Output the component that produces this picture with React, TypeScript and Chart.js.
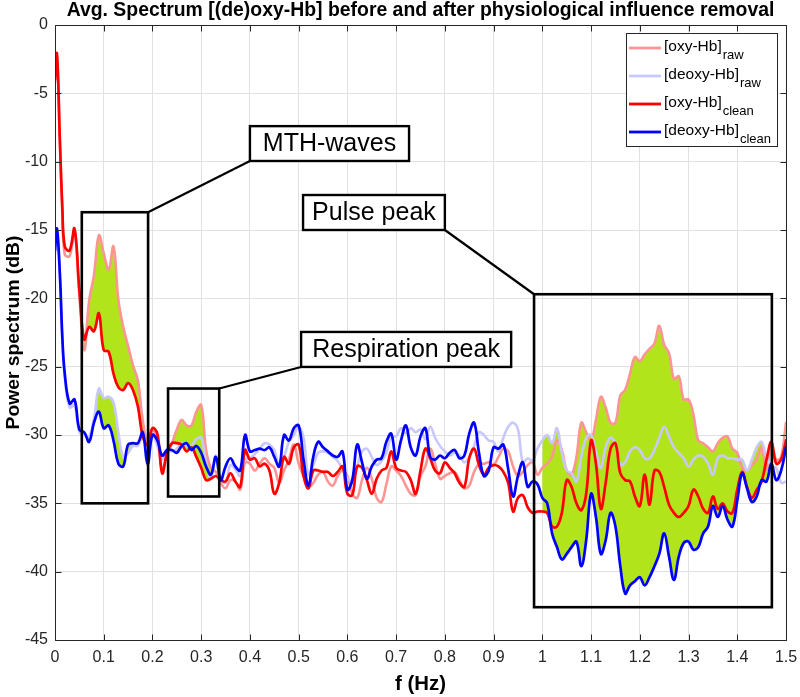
import React, { useEffect, useRef } from "react";
import { Chart, registerables } from "chart.js";

Chart.register(...registerables);

const FONT = '"Liberation Sans", Arial, Helvetica, sans-serif';

const freq = [
  0, 0.004, 0.01, 0.015, 0.02,
  0.03, 0.04, 0.05, 0.06, 0.07, 0.08, 0.09,
  0.1, 0.11, 0.12, 0.13, 0.14, 0.15, 0.16, 0.17, 0.18, 0.19,
  0.2, 0.21, 0.22, 0.23, 0.24, 0.25, 0.26, 0.27, 0.28, 0.29,
  0.3, 0.31, 0.32, 0.33, 0.34, 0.35, 0.36, 0.37, 0.38, 0.39,
  0.4, 0.41, 0.42, 0.43, 0.44, 0.45, 0.46, 0.47, 0.48, 0.49,
  0.5, 0.51, 0.52, 0.53, 0.54, 0.55, 0.56, 0.57, 0.58, 0.59,
  0.6, 0.61, 0.62, 0.63, 0.64, 0.65, 0.66, 0.67, 0.68, 0.69,
  0.7, 0.71, 0.72, 0.73, 0.74, 0.75, 0.76, 0.77, 0.78, 0.79,
  0.8, 0.81, 0.82, 0.83, 0.84, 0.85, 0.86, 0.87, 0.88, 0.89,
  0.9, 0.91, 0.92, 0.93, 0.94, 0.95, 0.96, 0.97, 0.98, 0.99,
  1.0, 1.01, 1.02, 1.03, 1.04, 1.05, 1.06, 1.07, 1.08, 1.09,
  1.1, 1.11, 1.12, 1.13, 1.14, 1.15, 1.16, 1.17, 1.18, 1.19,
  1.2, 1.21, 1.22, 1.23, 1.24, 1.25, 1.26, 1.27, 1.28, 1.29,
  1.3, 1.31, 1.32, 1.33, 1.34, 1.35, 1.36, 1.37, 1.38, 1.39,
  1.4, 1.41, 1.42, 1.43, 1.44, 1.45, 1.46, 1.47, 1.48, 1.49,
  1.5,
];

const oxyRaw = [
  -4.2, -2.3, -8.6, -13.6, -16.8,
  -16.9, -15.1, -19.8, -23.8, -20.2, -18.3, -15.4,
  -16.7, -17.9, -16.2, -20.1, -22.1, -23.5, -24.9, -26.0, -28.9, -30.5,
  -29.7, -30.2, -32.5, -31.5, -30.6, -29.6, -28.9, -29.3, -29.3, -28.3,
  -27.8, -31.1, -32.4, -32.7, -33.5, -33.9, -33.3, -33.4, -34.0, -32.0,
  -32.1, -32.6, -32.1, -31.7, -32.1, -32.4, -33.5, -32.6, -31.8, -30.7,
  -32.1, -33.0, -33.8, -33.5, -32.9, -32.7, -33.4, -33.7, -33.0, -32.6,
  -33.0, -34.3, -34.6, -33.3, -32.4, -33.2, -34.6, -34.9, -33.6, -32.3,
  -32.6, -33.0, -33.7, -34.3, -34.4, -33.0, -32.3, -31.0, -32.1, -33.2,
  -33.0, -32.8, -32.7, -33.3, -33.9, -33.7, -32.7, -32.1, -32.1, -32.0,
  -32.2, -31.6, -31.0, -31.2, -32.3, -33.0, -32.7, -32.2, -32.0, -32.9,
  -32.4, -32.1, -31.6, -30.4, -31.1, -32.6, -32.9, -31.6, -29.1, -29.8,
  -30.4, -28.9, -27.2, -28.0, -29.1, -29.1, -27.1, -26.7, -25.5, -24.3,
  -24.6, -24.1, -23.7, -23.3, -22.0, -23.4, -24.0, -25.9, -25.7, -27.4,
  -27.4, -28.5, -30.4, -30.6, -30.9, -31.2, -30.6, -30.2, -30.1, -31.0,
  -31.3, -32.4, -32.6, -32.2, -31.8, -30.9, -32.6, -30.6, -31.8, -31.6,
  -29.1,
];

const deoxyRaw = [
  -16.8, -15.2, -18.4, -23.0, -25.8,
  -28.0, -27.8, -29.8, -30.0, -30.1, -28.8, -26.6,
  -27.3, -27.2, -27.6, -29.8, -31.6, -31.3, -30.8, -30.8, -30.0, -32.2,
  -30.0, -30.8, -31.8, -31.0, -31.2, -31.0, -30.6, -30.8, -30.8, -30.3,
  -30.2, -32.0, -33.2, -31.5, -33.3, -33.5, -32.2, -32.5, -33.0, -31.8,
  -31.7, -31.4, -31.0, -30.6, -30.7, -31.1, -32.2, -31.6, -30.5, -30.0,
  -29.4, -30.2, -32.9, -32.2, -31.3, -31.2, -31.3, -31.6, -31.9, -32.5,
  -33.2, -33.3, -32.3, -31.2, -31.0, -31.6, -32.2, -31.9, -31.3, -30.1,
  -30.1, -29.5, -29.9, -29.5, -29.8, -29.6, -30.3, -29.4, -30.2, -30.8,
  -31.2, -31.5, -31.3, -31.5, -32.0, -31.6, -30.8, -29.8, -30.0, -30.4,
  -30.5, -31.2, -30.2, -29.4, -29.1, -29.6, -32.0, -31.7, -31.9, -31.0,
  -30.4, -30.0, -30.6, -29.5, -31.3, -32.6, -32.8, -33.4, -31.6, -30.2,
  -30.0, -31.2, -32.4, -30.9, -30.2, -30.6, -32.2, -32.0, -31.2, -30.9,
  -31.1, -31.7, -31.7, -31.1, -30.2, -29.4, -30.1, -30.9, -31.3, -31.7,
  -32.3, -31.8, -31.5, -31.6, -32.1, -32.9, -31.7, -31.5, -31.7, -31.7,
  -31.8, -31.8, -32.6, -31.8, -30.9, -30.5, -31.7, -32.3, -32.4, -33.5,
  -33.4,
];

const oxyClean = [
  -4.0, -2.1, -8.4, -13.3, -16.2,
  -16.5, -14.9, -19.4, -23.0, -22.1, -22.4, -21.1,
  -23.8, -23.9, -25.5, -26.5, -26.7, -26.2, -26.7, -27.9, -30.1, -30.7,
  -29.5, -29.9, -32.8, -31.3, -30.6, -30.6, -30.7, -31.2, -30.9, -31.6,
  -32.4, -33.3, -33.2, -33.0, -33.3, -33.4, -32.8, -33.4, -33.8, -31.1,
  -31.8, -31.7, -32.3, -32.1, -32.6, -34.3, -33.5, -31.6, -32.1, -30.9,
  -30.7, -33.0, -33.9, -32.6, -32.6, -32.7, -32.7, -33.0, -32.7, -32.3,
  -34.3, -34.4, -32.3, -32.4, -33.3, -34.3, -33.2, -32.6, -32.4, -31.2,
  -32.4, -32.6, -32.7, -33.3, -34.3, -32.6, -31.0, -31.7, -32.6, -32.8,
  -32.0, -32.4, -32.8, -33.5, -33.8, -31.7, -31.0, -32.2, -32.9, -32.4,
  -32.2, -32.3, -32.7, -33.5, -35.6, -34.6, -34.4, -35.3, -35.7, -35.6,
  -35.6, -35.7, -36.7, -36.7, -35.7, -33.3, -33.8, -35.0, -35.5, -34.3,
  -30.4, -32.1, -35.4, -33.5, -31.0, -30.6, -32.8, -33.3, -33.4, -34.5,
  -35.2, -32.9, -35.1, -32.6, -32.7, -33.8, -35.1, -35.7, -36.0, -35.7,
  -35.2, -34.0, -34.5, -35.4, -35.7, -34.5, -35.4, -35.0, -35.6, -35.7,
  -34.0, -32.7, -33.8, -34.6, -34.0, -33.4, -31.8, -30.5, -32.1, -31.8,
  -30.4,
];

const deoxyClean = [
  -16.5, -14.9, -18.2, -22.8, -25.5,
  -27.7, -27.4, -29.6, -29.8, -30.5, -29.1, -28.3,
  -29.5, -29.3, -30.4, -32.1, -32.3, -30.7, -30.6, -30.6, -29.8, -32.1,
  -30.0, -30.4, -31.5, -31.1, -31.1, -31.3, -30.8, -30.6, -31.1, -30.8,
  -31.3, -32.3, -32.9, -31.6, -33.3, -32.3, -31.7, -32.3, -32.6, -30.0,
  -31.2, -31.1, -31.0, -31.1, -30.9, -31.6, -32.3, -30.0, -30.4, -29.5,
  -29.3, -31.8, -33.7, -31.6, -30.5, -30.9, -31.2, -31.5, -31.6, -31.2,
  -34.0, -33.3, -30.7, -32.0, -33.2, -32.3, -31.8, -31.7, -30.5, -29.9,
  -31.8, -30.4, -29.3, -30.9, -31.5, -30.1, -29.5, -31.6, -31.8, -31.5,
  -31.7, -31.3, -31.1, -31.7, -31.5, -29.9, -29.1, -31.3, -33.0, -32.6,
  -30.9, -31.0, -30.7, -32.5, -34.5, -33.0, -32.0, -33.8, -33.4, -33.6,
  -34.6, -35.0, -37.2, -38.2, -39.1, -38.7, -38.2, -37.8, -39.6, -37.7,
  -34.3, -36.0, -38.7, -37.7, -35.7, -36.7, -39.6, -41.6, -41.0, -40.7,
  -40.4, -41.0, -40.4, -39.6, -38.7, -37.2, -38.9, -40.6, -38.9, -37.9,
  -37.8, -38.4, -38.2, -37.2, -36.7, -35.2, -36.0, -35.2, -36.2, -36.7,
  -34.8, -32.8, -33.9, -34.9, -34.5, -33.3, -33.4, -32.1, -33.3, -32.6,
  -30.9,
];

const xTicks = [0, 0.1, 0.2, 0.3, 0.4, 0.5, 0.6, 0.7, 0.8, 0.9, 1, 1.1, 1.2, 1.3, 1.4, 1.5];
const xTickLabels = ["0", "0.1", "0.2", "0.3", "0.4", "0.5", "0.6", "0.7", "0.8", "0.9", "1", "1.1", "1.2", "1.3", "1.4", "1.5"];
const yTicks = [-45, -40, -35, -30, -25, -20, -15, -10, -5, 0];
const yTickLabels = ["-45", "-40", "-35", "-30", "-25", "-20", "-15", "-10", "-5", "0"];

// frequency bands where the removed physiological influence is shaded
const bandStart = [0.06, 0.24, 1.0];
const bandEnd = [0.19, 0.32, 1.47];

// highlight boxes (data coordinates)
const regionX0 = [0.055, 0.232, 0.983];
const regionX1 = [0.191, 0.337, 1.471];
const regionTop = [-13.7, -26.6, -19.7];
const regionBottom = [-35.0, -34.5, -42.6];

// text callouts (data coordinates)
const calloutText = ["MTH-waves", "Respiration peak", "Pulse peak"];
const calloutX0 = [0.4, 0.505, 0.509];
const calloutX1 = [0.7265, 0.936, 0.8];
const calloutTop = [-7.4, -22.46, -12.44];
const calloutBottom = [-9.95, -25.02, -15.0];
const calloutLineFrom = [[0.4, -9.95], [0.505, -25.02], [0.8, -15.0]];
const calloutLineTo = [[0.191, -13.7], [0.337, -26.6], [0.983, -19.7]];

const TITLE = "Avg. Spectrum [(de)oxy-Hb] before and after physiological influence removal";
const X_TITLE = "f (Hz)";
const Y_TITLE = "Power spectrum (dB)";

const C_OXY_RAW = "rgb(255,148,148)";
const C_DEOXY_RAW = "rgb(200,200,255)";
const C_OXY = "rgb(255,0,0)";
const C_DEOXY = "rgb(0,0,255)";
const C_FILL = "rgb(178,228,28)";

const legendMain = ["[oxy-Hb]", "[deoxy-Hb]", "[oxy-Hb]", "[deoxy-Hb]"];
const legendSub = ["raw", "raw", "clean", "clean"];
const legendColors = [C_OXY_RAW, C_DEOXY_RAW, C_OXY, C_DEOXY];

function pts(values: number[], lo: number, hi: number) {
  return freq
    .map((f, i) => ({ x: f, y: values[i] }))
    .filter((p) => p.x >= lo - 1e-9 && p.x <= hi + 1e-9);
}

function fitSize(ctx: CanvasRenderingContext2D, text: string, weight: string, target: number) {
  ctx.font = `${weight} 20px ${FONT}`;
  const w = ctx.measureText(text).width;
  return (20 * target) / w;
}

const overlayPlugin = {
  id: "overlay",
  afterDatasetsDraw(chart: any) {
    const { ctx, chartArea: ca } = chart;
    const xs = chart.scales.x;
    const ys = chart.scales.y;
    const X = (v: number) => xs.getPixelForValue(v);
    const Y = (v: number) => ys.getPixelForValue(v);
    ctx.save();

    // axes box and inner ticks
    ctx.strokeStyle = "#262626";
    ctx.lineWidth = 1;
    const L = Math.round(ca.left) + 0.5;
    const R = Math.round(ca.right) + 0.5;
    const T = Math.round(ca.top) + 0.5;
    const B = Math.round(ca.bottom) + 0.5;
    ctx.beginPath();
    ctx.rect(L, T, R - L, B - T);
    xTicks.forEach((v) => {
      const px = Math.round(X(v)) + 0.5;
      ctx.moveTo(px, B);
      ctx.lineTo(px, B - 6);
      ctx.moveTo(px, T);
      ctx.lineTo(px, T + 6);
    });
    yTicks.forEach((v) => {
      const py = Math.round(Y(v)) + 0.5;
      ctx.moveTo(L, py);
      ctx.lineTo(L + 6, py);
      ctx.moveTo(R, py);
      ctx.lineTo(R - 6, py);
    });
    ctx.stroke();

    // highlight boxes
    ctx.strokeStyle = "#000";
    ctx.lineWidth = 2.6;
    for (let i = 0; i < regionX0.length; i++) {
      const x0 = X(regionX0[i]);
      const x1 = X(regionX1[i]);
      const y0 = Y(regionTop[i]);
      const y1 = Y(regionBottom[i]);
      ctx.strokeRect(x0, y0, x1 - x0, y1 - y0);
    }
    // connectors
    ctx.lineWidth = 2.2;
    for (let i = 0; i < calloutText.length; i++) {
      ctx.beginPath();
      ctx.moveTo(X(calloutLineFrom[i][0]), Y(calloutLineFrom[i][1]));
      ctx.lineTo(X(calloutLineTo[i][0]), Y(calloutLineTo[i][1]));
      ctx.stroke();
    }
    // callout boxes
    for (let i = 0; i < calloutText.length; i++) {
      const x0 = X(calloutX0[i]);
      const x1 = X(calloutX1[i]);
      const y0 = Y(calloutTop[i]);
      const y1 = Y(calloutBottom[i]);
      ctx.fillStyle = "#fff";
      ctx.fillRect(x0, y0, x1 - x0, y1 - y0);
      ctx.lineWidth = 2.4;
      ctx.strokeStyle = "#000";
      ctx.strokeRect(x0, y0, x1 - x0, y1 - y0);
      ctx.fillStyle = "#000";
      ctx.font = `25px ${FONT}`;
      ctx.textAlign = "center";
      ctx.textBaseline = "middle";
      ctx.fillText(calloutText[i], (x0 + x1) / 2, (y0 + y1) / 2 + 1);
    }

    // legend
    const lw = 151;
    const lh = 113;
    const lx = ca.right - 9 - lw;
    const ly = ca.top + 8;
    ctx.fillStyle = "#fff";
    ctx.fillRect(lx, ly, lw, lh);
    ctx.strokeStyle = "#262626";
    ctx.lineWidth = 1;
    ctx.strokeRect(Math.round(lx) + 0.5, Math.round(ly) + 0.5, lw, lh);
    for (let i = 0; i < legendMain.length; i++) {
      const cy = ly + 14 + i * 28;
      ctx.strokeStyle = legendColors[i];
      ctx.lineWidth = 2.8;
      ctx.beginPath();
      ctx.moveTo(lx + 3, cy + 1);
      ctx.lineTo(lx + 35, cy + 1);
      ctx.stroke();
      ctx.fillStyle = "#000";
      ctx.textAlign = "left";
      ctx.textBaseline = "middle";
      ctx.font = `15.5px ${FONT}`;
      ctx.fillText(legendMain[i], lx + 38, cy);
      const w = ctx.measureText(legendMain[i]).width;
      ctx.font = `13px ${FONT}`;
      ctx.fillText(legendSub[i], lx + 38 + w + 1, cy + 8);
    }
    ctx.restore();
  },
  afterDraw(chart: any) {
    const { ctx, chartArea: ca } = chart;
    ctx.save();
    ctx.fillStyle = "#000";
    ctx.textAlign = "center";
    ctx.textBaseline = "middle";
    const ts = fitSize(ctx, TITLE, "bold", 708);
    ctx.font = `bold ${ts}px ${FONT}`;
    ctx.fillText(TITLE, (ca.left + ca.right) / 2, 11);

    const xsz = fitSize(ctx, X_TITLE, "bold", 51);
    ctx.font = `bold ${xsz}px ${FONT}`;
    ctx.fillText(X_TITLE, (ca.left + ca.right) / 2, 684);

    const ysz = fitSize(ctx, Y_TITLE, "bold", 194);
    ctx.font = `bold ${ysz}px ${FONT}`;
    ctx.translate(14, (ca.top + ca.bottom) / 2);
    ctx.rotate(-Math.PI / 2);
    ctx.fillText(Y_TITLE, 0, 0);
    ctx.restore();
  },
};

export default function App() {
  const ref = useRef<HTMLCanvasElement | null>(null);
  useEffect(() => {
    if (!ref.current) return;
    const mainSets: any[] = [
      { label: "deoxyClean", data: pts(deoxyClean, 0, 1.5), borderColor: C_DEOXY, borderWidth: 2.7, order: 0 },
      { label: "oxyClean", data: pts(oxyClean, 0, 1.5), borderColor: C_OXY, borderWidth: 2.7, order: 1 },
      { label: "deoxyRaw", data: pts(deoxyRaw, 0, 1.5), borderColor: C_DEOXY_RAW, borderWidth: 2.6, order: 2 },
      { label: "oxyRaw", data: pts(oxyRaw, 0, 1.5), borderColor: C_OXY_RAW, borderWidth: 2.6, order: 3 },
    ].map((d) => ({ ...d, fill: false, pointRadius: 0, backgroundColor: d.borderColor }));

    const fillSets: any[] = [];
    for (let k = 0; k < bandStart.length; k++) {
      const base = mainSets.length + fillSets.length;
      const lo = bandStart[k];
      const hi = bandEnd[k];
      const common = { pointRadius: 0, borderWidth: 0, borderColor: "rgba(0,0,0,0)", backgroundColor: C_FILL, order: 10 };
      fillSets.push({ ...common, label: "fo" + k, data: pts(oxyRaw, lo, hi), fill: base + 1 });
      fillSets.push({ ...common, label: "co" + k, data: pts(oxyClean, lo, hi), fill: false });
      fillSets.push({ ...common, label: "fd" + k, data: pts(deoxyRaw, lo, hi), fill: base + 3 });
      fillSets.push({ ...common, label: "cd" + k, data: pts(deoxyClean, lo, hi), fill: false });
    }

    const chart = new Chart(ref.current, {
      type: "line",
      data: { datasets: [...mainSets, ...fillSets] },
      options: {
        animation: false,
        responsive: false,
        maintainAspectRatio: false,
        layout: { padding: { left: 0, right: 14, top: 25, bottom: 0 } },
        plugins: {
          legend: { display: false },
          title: { display: false },
          tooltip: { enabled: false },
        },
        elements: {
          point: { radius: 0 },
          line: { tension: 0.4, borderCapStyle: "round", borderJoinStyle: "round" },
        },
        scales: {
          x: {
            type: "linear",
            min: 0,
            max: 1.5,
            afterBuildTicks: (s: any) => {
              s.ticks = xTicks.map((v) => ({ value: v }));
            },
            afterFit: (s: any) => {
              s.height = 57;
              s.paddingLeft = 0;
              s.paddingRight = 0;
            },
            ticks: {
              autoSkip: false,
              maxRotation: 0,
              padding: 8,
              color: "#262626",
              font: { family: FONT, size: 16 },
              callback: (_v: any, i: number) => xTickLabels[i],
            },
            grid: { color: "#e1e1e1", drawTicks: false, lineWidth: 1 },
            border: { display: false },
          },
          y: {
            type: "linear",
            min: -45,
            max: 0,
            afterBuildTicks: (s: any) => {
              s.ticks = yTicks.map((v) => ({ value: v }));
            },
            afterFit: (s: any) => {
              s.width = 55;
              s.paddingTop = 0;
              s.paddingBottom = 0;
            },
            ticks: {
              autoSkip: false,
              padding: 7,
              color: "#262626",
              font: { family: FONT, size: 16 },
              callback: (_v: any, i: number) => yTickLabels[i],
            },
            grid: { color: "#e1e1e1", drawTicks: false, lineWidth: 1 },
            border: { display: false },
          },
        },
      } as any,
      plugins: [overlayPlugin],
    });
    return () => chart.destroy();
  }, []);

  return (
    <div style={{ position: "absolute", left: 0, top: 0, width: 800, height: 697, background: "#fff" }}>
      <canvas ref={ref} width={800} height={697} style={{ display: "block" }} />
    </div>
  );
}
